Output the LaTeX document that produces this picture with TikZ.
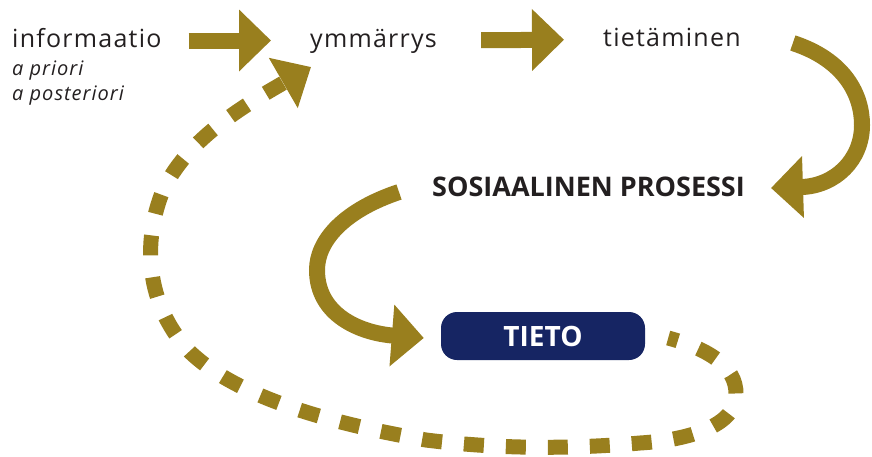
\documentclass[tikz,border=0pt]{standalone}
\usepackage{fontspec}
\setmainfont{Open Sans}
\usetikzlibrary{arrows.meta,positioning}

\definecolor{gold}{RGB}{153,127,30}
\definecolor{navy}{RGB}{22,37,99}
\definecolor{ink}{RGB}{35,31,32}

\begin{document}
\begin{tikzpicture}[x=1pt,y=-1pt,
    word/.style={inner sep=0pt, anchor=base west, text=ink,
      font=\fontsize{25}{30}\addfontfeatures{LetterSpace=5}\selectfont},
    sub/.style={inner sep=0pt, anchor=base west, text=ink,
      font=\fontsize{20}{24}\itshape\addfontfeatures{LetterSpace=5}\selectfont},
    flow/.style={draw=gold, line width=16pt,
      -{Triangle[length=32pt,width=60pt]}},
    back/.style={draw=gold, line width=15pt, dash pattern=on 20pt off 22pt,
      dash phase=10pt, -{Triangle[length=32pt,width=56pt]}}]
  \useasboundingbox (0,0) rectangle (872,456);

  \node[word] (info) at (12,47) {informaatio};
  \node[sub] (apri) at (12,75) {a priori};
  \node[sub] (apost) at (12,100) {a posteriori};
  \node[word] (ymm) at (310,47) {ymmärrys};
  \node[word] (tiet) at (603,46) {tietäminen};
  \node[inner sep=0pt, anchor=base west, text=ink,
    font=\fontsize{27}{32}\bfseries\selectfont] (sos) at (432,196) {SOSIAALINEN PROSESSI};
  \node[fill=navy, rounded corners=16pt, minimum width=204pt, minimum height=48pt,
    text=white, font=\fontsize{28}{32}\bfseries\selectfont] (tieto) at (543,336) {TIETO};

  % etenevat nuolet
  \draw[flow, shorten <=27pt, shorten >=39pt]
    ([yshift=6.5pt]info.base east) -- ([yshift=6.5pt]ymm.base west);
  \draw[flow, shorten <=44pt, shorten >=39pt]
    ([yshift=6.5pt]ymm.base east) -- ([yshift=6.5pt]tiet.base west);

  % kaarevat nuolet
  \draw[flow] ([shift={(52,-3)}]tiet.base east)
    .. controls (845,60) and (862,95) .. (862,125)
    .. controls (862,160) and (835,186) .. ([shift={(26,-8)}]sos.base east);
  \draw[flow] ([shift={(-33,-4)}]sos.base west)
    .. controls (345,210) and (317,240) .. (317,270)
    .. controls (317,315) and (360,333) .. ([shift={(-17,2)}]tieto.west);

  % takaisinkytkenta
  \draw[back] ([shift={(23,2)}]tieto.east)
    .. controls (705,348) and (737,365) .. (736,395)
    .. controls (736,425) and (690,440) .. (640,443)
    .. controls (560,450) and (490,448) .. (426,440)
    .. controls (340,425) and (240,400) .. (190,352)
    .. controls (150,310) and (140,250) .. (162,193)
    .. controls (185,140) and (245,105) .. ([shift={(1,20)}]ymm.base west);
\end{tikzpicture}
\end{document}
